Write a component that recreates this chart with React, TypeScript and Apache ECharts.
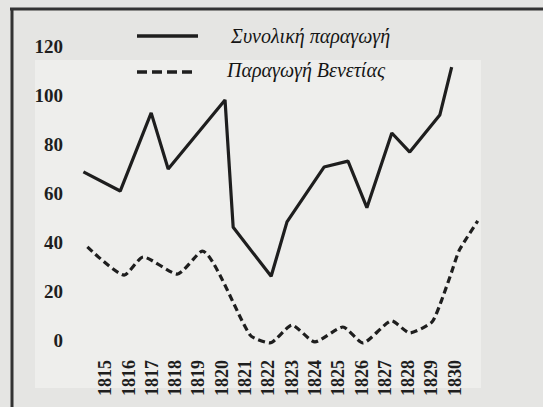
import React, { useEffect, useRef } from "react";
import * as echarts from "echarts";

// Year positions (fractional) and values
const totalYears = [1814.06, 1815.64, 1816.97, 1817.7, 1820.14, 1820.49, 1822.12, 1822.8, 1824.39, 1825.42, 1826.23, 1827.3, 1828.07, 1829.36, 1829.87];
const totalValues = [68.6, 60.8, 92.7, 69.8, 98, 46, 26, 48.2, 70.6, 73, 54, 84.5, 76.7, 91.8, 111.4];

const veniceYears = [1814.23, 1815.81, 1816.63, 1818.09, 1819.16, 1821.22, 1822.07, 1823.01, 1824.0, 1825.2, 1826.06, 1827.3, 1828.07, 1829.02, 1829.44, 1829.87, 1830.2, 1830.99];
const veniceValues = [38, 26.5, 33.9, 26.9, 36.3, 2.0, -1.2, 6.1, -0.8, 5.3, -1.2, 7.8, 2.9, 7.3, 16.3, 27.8, 36.7, 48.6];

const yearLabels = [1815, 1816, 1817, 1818, 1819, 1820, 1821, 1822, 1823, 1824, 1825, 1826, 1827, 1828, 1829, 1830];
const yTicks = [0, 20, 40, 60, 80, 100, 120];

const seriesNames = ["Συνολική παραγωγή", "Παραγωγή Βενετίας"];

export default function App() {
  const ref = useRef<HTMLDivElement>(null);
  useEffect(() => {
    if (!ref.current) return;
    const chart = echarts.init(ref.current, undefined, { renderer: "svg" });
    const ink = "#1e1e1e";
    const numFont = "'Liberation Serif', 'DejaVu Serif', serif";
    const legendText = (text: string, x: number, y: number) => ({
      type: "text",
      silent: true,
      x,
      y,
      style: {
        text,
        fontFamily: numFont,
        fontStyle: "italic",
        fontSize: 20,
        fill: "#151515",
        verticalAlign: "middle",
        align: "left",
      },
    });
    chart.setOption({
      animation: false,
      backgroundColor: "#e5e5e3",
      grid: { left: 82, right: 65, top: 46, bottom: 67 },
      xAxis: {
        type: "value",
        min: 1814,
        max: 1831,
        interval: 1,
        axisLine: { show: false },
        axisTick: { show: false },
        splitLine: { show: false },
        axisLabel: {
          rotate: 90,
          margin: 20,
          fontFamily: numFont,
          fontWeight: "bold",
          fontSize: 18,
          color: ink,
          formatter: (v: number) => (yearLabels.indexOf(Math.round(v)) >= 0 ? String(Math.round(v)) : ""),
        },
      },
      yAxis: {
        type: "value",
        min: 0,
        max: 120,
        interval: 20,
        axisLine: { show: false },
        axisTick: { show: false },
        splitLine: { show: false },
        axisLabel: {
          margin: 19,
          fontFamily: numFont,
          fontWeight: "bold",
          fontSize: 19,
          color: ink,
          formatter: (v: number) => (yTicks.indexOf(v) >= 0 ? String(v) : ""),
        },
      },
      graphic: [
        {
          type: "rect",
          z: -10,
          silent: true,
          shape: { x: 35, y: 60, width: 446, height: 328 },
          style: { fill: "#eeeeec" },
        },
        {
          type: "line",
          silent: true,
          shape: { x1: 10, y1: 9, x2: 543, y2: 9 },
          style: { stroke: "#333", lineWidth: 3 },
        },
        {
          type: "line",
          silent: true,
          shape: { x1: 12, y1: 8, x2: 12, y2: 407 },
          style: { stroke: "#333", lineWidth: 3 },
        },
        {
          type: "line",
          silent: true,
          shape: { x1: 137, y1: 36, x2: 198, y2: 36 },
          style: { stroke: ink, lineWidth: 3.5 },
        },
        {
          type: "line",
          silent: true,
          shape: { x1: 137, y1: 72, x2: 195, y2: 72 },
          style: { stroke: ink, lineWidth: 3.5, lineDash: [10, 5] },
        },
        legendText(seriesNames[0], 231, 36),
        legendText(seriesNames[1], 227, 70),
      ],
      series: [
        {
          name: seriesNames[0],
          type: "line",
          showSymbol: false,
          symbol: "none",
          clip: false,
          lineStyle: { color: ink, width: 3.2, type: "solid" },
          data: totalYears.map((y, i) => [y, totalValues[i]]),
        },
        {
          name: seriesNames[1],
          type: "line",
          showSymbol: false,
          symbol: "none",
          clip: false,
          smooth: 0.2,
          lineStyle: { color: ink, width: 3.2, type: [7, 4] },
          data: veniceYears.map((y, i) => [y, veniceValues[i]]),
        },
      ],
    });
    return () => chart.dispose();
  }, []);
  return <div ref={ref} style={{ position: "fixed", left: 0, top: 0, width: 543, height: 407 }} />;
}
